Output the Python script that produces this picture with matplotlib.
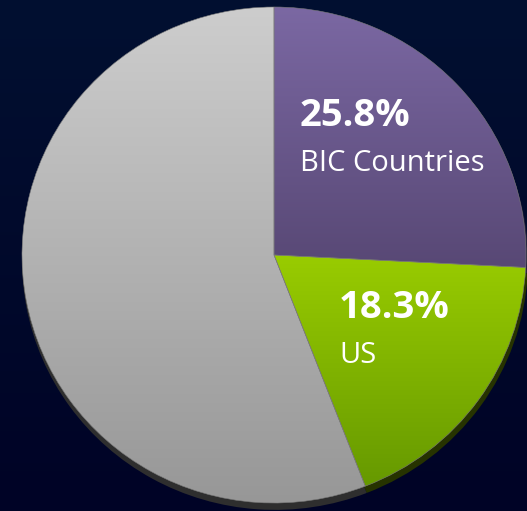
import matplotlib
matplotlib.use("Agg")
import matplotlib.pyplot as plt
import numpy as np
from matplotlib.colors import LinearSegmentedColormap

# slice data, clockwise from 12 o'clock
labels = ["BIC Countries", "US", "Rest of World"]
shares = [25.8, 18.3, 55.9]
show_label = [True, True, False]

top_colors = ["#7b68a3", "#99cc00", "#cdcdcd"]
bottom_colors = ["#584875", "#669900", "#979797"]
shadow_colors = ["#2a2340", "#263300", "#2e2e2e"]

W, H = 527, 511
# pie is slightly squashed vertically in the original
sy = 248 / 252
YH = H / sy
cx, cy, r = 274, (H - 255) / sy, 252


def py(y_px):
    # pixel row (from top) -> data y
    return (H - y_px) / sy


plt.rcParams["font.family"] = ["Open Sans", "DejaVu Sans"]

fig = plt.figure(figsize=(W / 100, H / 100), dpi=100)
ax = fig.add_axes([0, 0, 1, 1])
ax.axis("off")

# background gradient
bg = LinearSegmentedColormap.from_list("bg", ["#000326", "#021031"])
ax.imshow(np.linspace(0, 1, 256).reshape(-1, 1), cmap=bg, origin="lower",
          extent=(0, W, 0, YH), aspect="auto", zorder=0)

# drop shadow
ax.pie(shares, startangle=90, counterclock=False, center=(cx + 1, cy - 6),
       radius=r + 1, colors=shadow_colors, frame=True,
       wedgeprops=dict(linewidth=0, zorder=1))

wedges, _ = ax.pie(shares, startangle=90, counterclock=False,
                   center=(cx, cy), radius=r, colors=top_colors, frame=True,
                   wedgeprops=dict(linewidth=0, zorder=2))

# vertical gradient inside each wedge
for w, c0, c1 in zip(wedges, top_colors, bottom_colors):
    verts = w.get_path().vertices
    y0, y1 = verts[:, 1].min(), verts[:, 1].max()
    cmap = LinearSegmentedColormap.from_list("g", [c1, c0])
    im = ax.imshow(np.linspace(0, 1, 256).reshape(-1, 1), cmap=cmap,
                   origin="lower", extent=(cx - r, cx + r, y0, y1),
                   aspect="auto", zorder=3)
    im.set_clip_path(w)
    w.set_facecolor("none")
    w.set_edgecolor("#7a7a7a")
    w.set_linewidth(0.4)
    w.set_zorder(4)

ax.set_xlim(0, W)
ax.set_ylim(0, YH)
ax.set_aspect("auto")

# labels
text_pos = [(300, 126, 171), (339, 318, 363)]
for (lab, val, show), (tx, ty_pct, ty_lab) in zip(
        [(l, v, s) for l, v, s in zip(labels, shares, show_label) if s], text_pos):
    ax.text(tx, py(ty_pct), f"{val:.1f}%", color="white", fontsize=27.5,
            fontweight="bold", va="baseline", ha="left", zorder=5)
    ax.text(tx, py(ty_lab), lab, color="white", fontsize=21,
            va="baseline", ha="left", zorder=5)

fig.savefig("out.png", dpi=100, facecolor="#010a2c")
